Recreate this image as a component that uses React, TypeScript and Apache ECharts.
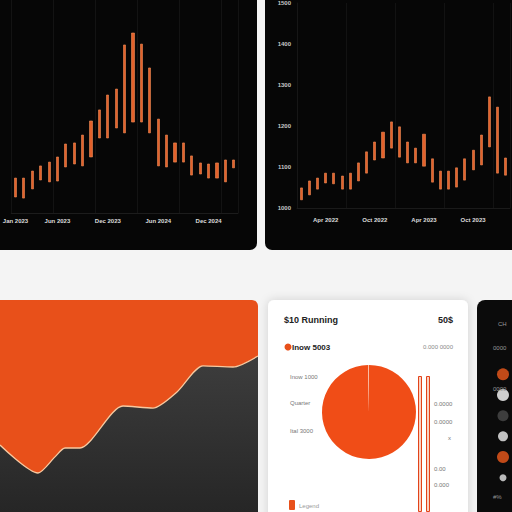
import { useEffect, useRef } from 'react'
import * as echarts from 'echarts'

// top-left panel: floating monthly ranges
const p1Cats = [
  'Jan 2023', 'Feb 2023', 'Mar 2023', 'Apr 2023', 'May 2023', 'Jun 2023', 'Jul 2023', 'Aug 2023', 'Sep 2023',
  'Oct 2023', 'Nov 2023', 'Dec 2023', 'Jan 2024', 'Feb 2024', 'Mar 2024', 'Apr 2024', 'May 2024', 'Jun 2024',
  'Jul 2024', 'Aug 2024', 'Sep 2024', 'Oct 2024', 'Nov 2024', 'Dec 2024', 'Jan 2025', 'Feb 2025', 'Mar 2025',
]
const p1Low = [7.5, 7.0, 11.3, 15.5, 14.6, 15.0, 21.6, 23.0, 22.1, 26.3, 35.2, 35.2, 39.9, 37.6, 42.7, 42.7, 37.6, 22.1, 21.6, 23.9, 23.9, 17.8, 18.3, 16.4, 16.4, 14.6, 21.2]
const p1High = [16.4, 16.4, 19.7, 22.1, 23.9, 26.3, 32.4, 32.9, 36.6, 43.2, 48.4, 55.4, 58.2, 78.9, 84.5, 79.3, 68.1, 44.1, 36.6, 32.9, 32.9, 26.8, 23.5, 23.0, 23.5, 24.9, 24.9]

// top-right panel
const p2Cats = [
  'Jan 2022', 'Feb 2022', 'Mar 2022', 'Apr 2022', 'May 2022', 'Jun 2022', 'Jul 2022', 'Aug 2022', 'Sep 2022',
  'Oct 2022', 'Nov 2022', 'Dec 2022', 'Jan 2023', 'Feb 2023', 'Mar 2023', 'Apr 2023', 'May 2023', 'Jun 2023',
  'Jul 2023', 'Aug 2023', 'Sep 2023', 'Oct 2023', 'Nov 2023', 'Dec 2023', 'Jan 2024', 'Feb 2024',
]
const p2Low = [1020, 1032, 1046, 1061, 1059, 1046, 1046, 1066, 1085, 1117, 1122, 1146, 1124, 1110, 1110, 1102, 1063, 1046, 1046, 1051, 1068, 1093, 1105, 1149, 1085, 1080]
const p2High = [1049, 1066, 1073, 1085, 1085, 1078, 1085, 1110, 1137, 1161, 1185, 1210, 1198, 1161, 1146, 1180, 1120, 1090, 1090, 1098, 1120, 1141, 1178, 1271, 1246, 1122]

// bottom-left area
const areaDay = [0, 38, 55, 65, 80, 123, 153, 177, 203, 233, 258]
const areaVal = [31.6, 18.4, 26, 30.2, 30.2, 50, 49, 56.6, 68.9, 68.4, 73.6]

// card
const pieData = [
  { name: 'Running', value: 99.7 },
  { name: 'Other', value: 0.3 },
]
const stripeCats = ['A', 'B']
const stripeVals = [100, 100]
const cardLeftLabels = ['Inow 1000', 'Quarter', 'Ital 3000']
const cardRightLabels = ['0.0000', '0.0000', 'x', '0.00', '0.000']

// right legend panel
const dotNames = ['Orange', 'White', 'Gray', 'Light', 'Accent', 'Other']
const dotColors = ['#ef5a1c', '#ffffff', '#4a4a4a', '#f0f0f0', '#ef5a1c', '#e6e6e6']
const dotSizes = [12, 12, 11, 10, 12, 7]

const FONT = 'Liberation Sans, Arial, sans-serif'

export default function App() {
  const ref = useRef<HTMLDivElement | null>(null)

  useEffect(() => {
    if (!ref.current) return
    const chart = echarts.init(ref.current, undefined, { renderer: 'svg' })

    const lbl = (x: number, y: number, text: string, o: Record<string, unknown> = {}) => ({
      type: 'text',
      x,
      y,
      z: 50,
      style: { text, fill: '#777', font: `6px ${FONT}`, textVerticalAlign: 'middle', ...o },
    })

    const option = {
      animation: false,
      backgroundColor: '#f4f4f4',
      textStyle: { fontFamily: FONT },
      graphic: [
        { type: 'rect', z: -10, shape: { x: -10, y: -10, width: 267, height: 260, r: 7 }, style: { fill: '#060606' } },
        { type: 'rect', z: -10, shape: { x: 265, y: -10, width: 260, height: 260, r: 7 }, style: { fill: '#060606' } },
        { type: 'rect', z: -10, shape: { x: 0, y: 300, width: 258, height: 212, r: [0, 6, 0, 0] }, style: { fill: '#e8501a' } },
        {
          type: 'rect',
          z: -10,
          shape: { x: 268, y: 300, width: 200, height: 230, r: 6 },
          style: { fill: '#ffffff', shadowBlur: 10, shadowColor: 'rgba(0,0,0,0.15)' },
        },
        { type: 'rect', z: -10, shape: { x: 477, y: 300, width: 60, height: 230, r: 8 }, style: { fill: '#0b0b0b' } },
        lbl(284, 320, '$10 Running', { fill: '#222', font: `bold 9px ${FONT}` }),
        lbl(453, 320, '50$', { fill: '#222', font: `bold 9px ${FONT}`, textAlign: 'right' }),
        { type: 'circle', z: 50, shape: { cx: 288, cy: 347, r: 3.5 }, style: { fill: '#e8501a' } },
        lbl(292, 347, 'Inow 5003', { fill: '#222', font: `bold 8px ${FONT}` }),
        lbl(453, 347, '0.000 0000', { fill: '#888', textAlign: 'right' }),
        lbl(290, 377, cardLeftLabels[0]),
        lbl(290, 403, cardLeftLabels[1]),
        lbl(290, 431, cardLeftLabels[2]),
        lbl(434, 404, cardRightLabels[0]),
        lbl(434, 422, cardRightLabels[1]),
        lbl(448, 438, cardRightLabels[2]),
        lbl(434, 469, cardRightLabels[3]),
        lbl(434, 485, cardRightLabels[4]),
        { type: 'rect', z: 50, shape: { x: 289, y: 500, width: 6, height: 10, r: 1 }, style: { fill: '#e8501a' } },
        lbl(299, 506, 'Legend', { fill: '#999' }),
        lbl(498, 324, 'CH', { fill: '#999' }),
        lbl(493, 348, '0000', { fill: '#999' }),
        lbl(493, 389, '0000', { fill: '#999' }),
        lbl(493, 497, '#%', { fill: '#999' }),
      ],
      grid: [
        { left: 0, top: 0, width: 238, height: 213 },
        { left: 297, top: 3, width: 213, height: 205 },
        { left: 0, top: 300, width: 258, height: 212 },
        { left: 416, top: 376, width: 16, height: 140 },
        { left: 496, top: 364, width: 14, height: 124 },
      ],
      xAxis: [
        {
          gridIndex: 0,
          type: 'category',
          data: p1Cats,
          axisLine: { lineStyle: { color: '#1c1c1c' } },
          axisTick: { show: false },
          axisLabel: {
            interval: (i: number) => i % 6 === 5 || i === 0,
            color: '#dcdcdc',
            fontSize: 6,
            fontWeight: 'bold',
            margin: 5,
          },
          splitLine: { show: true, interval: 4, lineStyle: { color: '#131313' } },
        },
        {
          gridIndex: 1,
          type: 'category',
          data: p2Cats,
          axisLine: { lineStyle: { color: '#1a1a1a' } },
          axisTick: { show: false },
          axisLabel: {
            interval: (i: number) => i % 6 === 3,
            color: '#dcdcdc',
            fontSize: 6,
            fontWeight: 'bold',
            margin: 9,
          },
          splitLine: { show: true, interval: 5, lineStyle: { color: '#121212' } },
        },
        { gridIndex: 2, type: 'value', min: 0, max: 258, show: false },
        { gridIndex: 3, type: 'category', data: stripeCats, show: false },
        { gridIndex: 4, type: 'value', min: 0, max: 1, show: false },
      ],
      yAxis: [
        { gridIndex: 0, type: 'value', min: 0, max: 100, show: false },
        {
          gridIndex: 1,
          type: 'value',
          min: 1000,
          max: 1500,
          interval: 100,
          axisLine: { show: true, lineStyle: { color: '#161616' } },
          axisTick: { show: false },
          axisLabel: { color: '#c8c8c8', fontSize: 6, fontWeight: 'bold', margin: 6, formatter: (v: number) => String(v) },
          splitLine: { show: false },
        },
        { gridIndex: 2, type: 'value', min: 0, max: 100, show: false },
        { gridIndex: 3, type: 'value', min: 0, max: 100, show: false },
        { gridIndex: 4, type: 'category', data: dotNames, inverse: true, show: false },
      ],
      series: [
        {
          type: 'candlestick',
          xAxisIndex: 0,
          yAxisIndex: 0,
          barWidth: 2.6,
          data: p1Low.map((l, i) => [l, p1High[i], l, p1High[i]]),
          itemStyle: { color: '#e4612b', color0: '#e4612b', borderColor: '#f08b55', borderColor0: '#f08b55', borderWidth: 0.6 },
        },
        {
          type: 'candlestick',
          xAxisIndex: 1,
          yAxisIndex: 1,
          barWidth: 2.6,
          data: p2Low.map((l, i) => [l, p2High[i], l, p2High[i]]),
          itemStyle: { color: '#e4612b', color0: '#e4612b', borderColor: '#f08b55', borderColor0: '#f08b55', borderWidth: 0.6 },
        },
        {
          type: 'line',
          xAxisIndex: 2,
          yAxisIndex: 2,
          data: areaDay.map((d, i) => [d, areaVal[i]]),
          smooth: 0.25,
          symbol: 'none',
          lineStyle: { color: '#f7c9a0', width: 1.3 },
          areaStyle: {
            opacity: 1,
            color: new echarts.graphic.LinearGradient(0, 0, 0, 1, [
              { offset: 0, color: '#3d3d3d' },
              { offset: 1, color: '#262626' },
            ]),
          },
        },
        {
          type: 'pie',
          center: [369, 412],
          radius: 47,
          startAngle: 90,
          silent: true,
          label: { show: false },
          labelLine: { show: false },
          data: pieData,
          color: ['#f04d17', '#f9b89c'],
        },
        {
          type: 'bar',
          xAxisIndex: 3,
          yAxisIndex: 3,
          barWidth: 4,
          data: stripeVals,
          itemStyle: { color: '#f9d2c2', borderColor: '#e2431a', borderWidth: 1 },
        },
        {
          type: 'scatter',
          xAxisIndex: 4,
          yAxisIndex: 4,
          data: dotNames.map((n, i) => ({
            value: [0.5, n],
            symbolSize: dotSizes[i],
            itemStyle: { color: dotColors[i] },
          })),
        },
      ],
    }

    chart.setOption(option)
    return () => chart.dispose()
  }, [])

  return <div ref={ref} style={{ position: 'fixed', left: 0, top: 0, width: 512, height: 512 }} />
}
